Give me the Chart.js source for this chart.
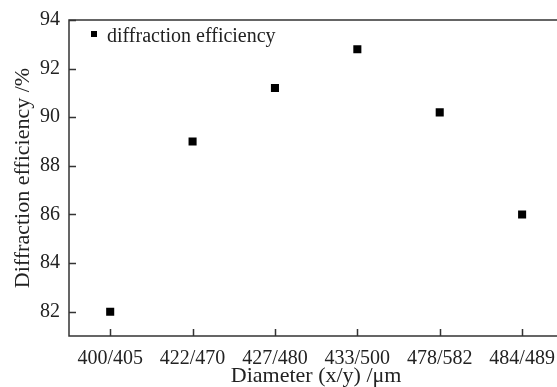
<!DOCTYPE html>
<html>
<head>
<meta charset="utf-8">
<script src="https://cdn.jsdelivr.net/npm/chart.js@4/dist/chart.umd.min.js"></script>
<style>
  html, body { margin: 0; padding: 0; background: #fff; overflow: hidden; }
</style>
</head>
<body>
<canvas id="chart" width="569" height="387"></canvas>
<script>
// diameter pairs (x/y) and measured efficiency in %
const diameters = ['400/405', '422/470', '427/480', '433/500', '478/582', '484/489']
const efficiency = [82.0, 89.0, 91.2, 92.8, 90.2, 86.0]
const seriesName = 'diffraction efficiency'

const serif = '"Liberation Serif", "Times New Roman", serif'
const ink = '#333'

// left/top/bottom frame + inward ticks, drawn by hand since Chart.js puts ticks outside
const framePlugin = {
    id: 'frame',
    afterDraw(chart) {
        const { ctx, chartArea: a, scales } = chart
        ctx.save()
        ctx.strokeStyle = ink
        ctx.lineWidth = 1.5
        ctx.beginPath()
        ctx.moveTo(a.right, a.top)
        ctx.lineTo(a.left, a.top)
        ctx.lineTo(a.left, a.bottom)
        ctx.lineTo(a.right, a.bottom)
        ctx.stroke()
        ctx.beginPath()
        scales.y.ticks.forEach((t) => {
            const y = Math.round(scales.y.getPixelForValue(t.value)) + 0.5
            ctx.moveTo(a.left, y)
            ctx.lineTo(a.left + 7, y)
        })
        scales.x.ticks.forEach((t, i) => {
            const x = Math.round(scales.x.getPixelForTick(i)) + 0.5
            ctx.moveTo(x, a.bottom)
            ctx.lineTo(x, a.bottom - 7)
        })
        ctx.stroke()

        // legend in the upper left corner of the plot
        const ds = chart.data.datasets[0]
        ctx.fillStyle = '#000'
        ctx.fillRect(a.left + 22, a.top + 11, 6, 6)
        ctx.fillStyle = '#222'
        ctx.font = '20px ' + serif
        ctx.textBaseline = 'alphabetic'
        ctx.fillText(ds.label, a.left + 38, a.top + 22)
        ctx.restore()
    }
}

new Chart(document.getElementById('chart'), {
    type: 'scatter',
    data: {
        labels: diameters,
        datasets: [{
            label: seriesName,
            data: efficiency,
            pointStyle: 'rect',
            pointRadius: 5.7,
            pointHoverRadius: 5.7,
            backgroundColor: '#000',
            borderColor: '#000',
            borderWidth: 0,
            showLine: false
        }]
    },
    options: {
        responsive: false,
        animation: false,
        layout: { padding: { top: 20, right: 2, left: 0, bottom: 0 } },
        plugins: {
            legend: { display: false },
            tooltip: { enabled: false }
        },
        scales: {
            x: {
                type: 'category',
                offset: true,
                grid: { display: false, drawTicks: false },
                border: { display: false },
                ticks: { color: '#222', font: { family: serif, size: 20 }, padding: 11, maxRotation: 0, autoSkip: false },
                title: {
                    display: true,
                    text: 'Diameter (x/y) /μm',
                    color: '#222',
                    font: { family: serif, size: 22, lineHeight: 1 },
                    padding: { top: 0, bottom: 0 }
                },
                afterFit(scale) {
                    scale.height = 51
                    scale.paddingLeft = 0
                    scale.paddingRight = 0
                }
            },
            y: {
                min: 81,
                max: 94,
                grid: { display: false, drawTicks: false },
                border: { display: false },
                ticks: { stepSize: 2, color: '#222', font: { family: serif, size: 20 }, padding: 9 },
                afterBuildTicks(scale) {
                    scale.ticks = scale.ticks.filter((t) => t.value % 2 === 0)
                },
                title: {
                    display: true,
                    text: 'Diffraction efficiency /%',
                    color: '#222',
                    font: { family: serif, size: 22, lineHeight: 1 },
                    padding: { top: 12, bottom: 0 }
                },
                afterFit(scale) {
                    scale.width = 69
                    scale.paddingTop = 0
                    scale.paddingBottom = 0
                }
            }
        }
    },
    plugins: [framePlugin]
})
</script>
</body>
</html>
